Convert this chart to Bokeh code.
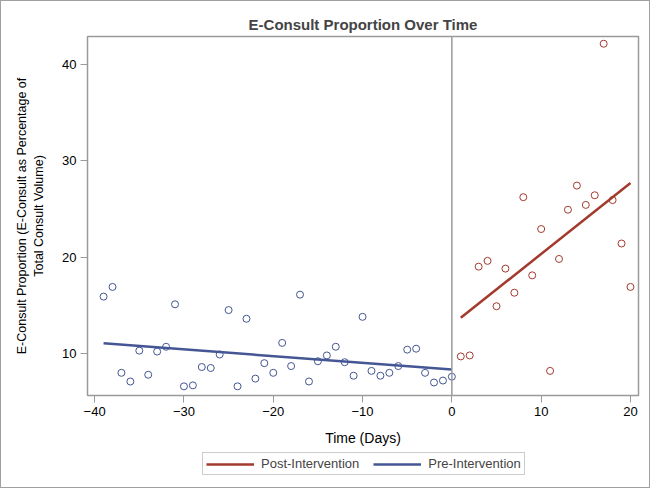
import numpy as np
from bokeh.plotting import figure
from bokeh.layouts import column
from bokeh.models import FixedTicker, Span, Legend, LegendItem
from bokeh.embed import file_html
from bokeh.resources import INLINE

# ---- data ----
pre_days = list(range(-39, 1))
pre_values = [15.9, 16.9, 8.0, 7.1, 10.3, 7.8, 10.2, 10.7, 15.1, 6.6,
              6.7, 8.6, 8.5, 9.9, 14.5, 6.6, 13.6, 7.4, 9.0, 8.0,
              11.1, 8.7, 16.1, 7.1, 9.2, 9.8, 10.7, 9.1, 7.7, 13.8,
              8.2, 7.7, 8.0, 8.7, 10.4, 10.5, 8.0, 7.0, 7.2, 7.6]
post_days = list(range(1, 21))
post_values = [9.7, 9.8, 19.0, 19.6, 14.9, 18.8, 16.3, 26.2, 18.1, 22.9,
               8.2, 19.8, 24.9, 27.4, 25.4, 26.4, 42.1, 25.9, 21.4, 16.9]
x_ticks = [-40, -30, -20, -10, 0, 10, 20]
y_ticks = [10, 20, 30, 40]
legend_labels = ["Post-Intervention", "Pre-Intervention"]

BLUE = "#445694"
RED = "#A23A2E"
GRAY = "#9a9a9a"
FONT = "Liberation Sans"

# linear fits (the chart's regression lines)
pre_fit = np.polyfit(pre_days, pre_values, 1)
post_fit = np.polyfit(post_days, post_values, 1)
pre_line_x = [min(pre_days), max(pre_days)]
post_line_x = [min(post_days), max(post_days)]
pre_line_y = list(np.polyval(pre_fit, pre_line_x))
post_line_y = list(np.polyval(post_fit, post_line_x))

p = figure(width=648, height=450,
           output_backend="svg", toolbar_location=None,
           x_range=(-40.8, 20.9), y_range=(5.65, 42.85),
           min_border_left=86, min_border_right=11, min_border_top=35, min_border_bottom=56)

p.title.text = "E-Consult Proportion Over Time"
p.title.align = "center"
p.title.text_font = FONT
p.title.text_font_size = "15px"
p.title.text_font_style = "bold"
p.title.standoff = 7

p.xgrid.visible = False
p.ygrid.visible = False
p.outline_line_color = GRAY
p.outline_line_width = 1.5
p.background_fill_color = "white"
p.border_fill_color = "white"

for ax in (p.xaxis[0], p.yaxis[0]):
    ax.axis_line_color = GRAY
    ax.major_tick_line_color = GRAY
    ax.minor_tick_line_color = None
    ax.major_tick_in = 0
    ax.major_tick_out = 7
    ax.major_label_text_font = FONT
    ax.major_label_text_font_size = "13px"
    ax.major_label_text_color = "black"
    ax.axis_label_text_font = FONT
    ax.axis_label_text_font_style = "normal"
    ax.axis_label_text_color = "black"
    ax.major_label_standoff = 4

p.xaxis[0].ticker = FixedTicker(ticks=x_ticks)
p.yaxis[0].ticker = FixedTicker(ticks=y_ticks)
p.xaxis[0].axis_label = "Time (Days)"
p.xaxis[0].axis_label_text_font_size = "14px"
p.xaxis[0].axis_label_standoff = 11
p.yaxis[0].axis_label = "E-Consult Proportion (E-Consult as Percentage of\nTotal Consult Volume)"
p.yaxis[0].axis_label_text_font_size = "12.5px"
p.yaxis[0].axis_label_standoff = 13

p.add_layout(Span(location=0, dimension="height", line_color=GRAY, line_width=1.5))

p.scatter(pre_days, pre_values, marker="circle", size=7, fill_color=None,
          line_color=BLUE, line_width=1)
p.scatter(post_days, post_values, marker="circle", size=7, fill_color=None,
          line_color=RED, line_width=1)

p.line(post_line_x, post_line_y, line_color=RED, line_width=2.5)
p.line(pre_line_x, pre_line_y, line_color=BLUE, line_width=2.5)

# legend strip below the plot (same line styles as the fit lines);
# its key lines carry the fit-line data but lie outside this strip's visible range
p2 = figure(width=648, height=36, output_backend="svg", toolbar_location=None,
            x_range=(1000, 1001), y_range=(1000, 1001), x_axis_type=None, y_axis_type=None,
            min_border=0, outline_line_color=None)
p2.border_fill_color = "white"
p2.background_fill_color = "white"
lg_post = p2.line(post_line_x, post_line_y, line_color=RED, line_width=2.5)
lg_pre = p2.line(pre_line_x, pre_line_y, line_color=BLUE, line_width=2.5)

legend = Legend(items=[LegendItem(label=legend_labels[0], renderers=[lg_post]),
                       LegendItem(label=legend_labels[1], renderers=[lg_pre])],
                orientation="horizontal", location=(115, 12),
                label_text_font=FONT, label_text_font_size="13px",
                glyph_width=48, glyph_height=14, label_standoff=7,
                spacing=14, padding=3, margin=0,
                border_line_color=GRAY, border_line_width=1,
                background_fill_alpha=1)
p2.add_layout(legend, "center")

layout = column(p, p2, spacing=0)
layout.styles = {"border": "1px solid #a0a0a0"}

open("out.html", "w").write(file_html(layout, INLINE))
